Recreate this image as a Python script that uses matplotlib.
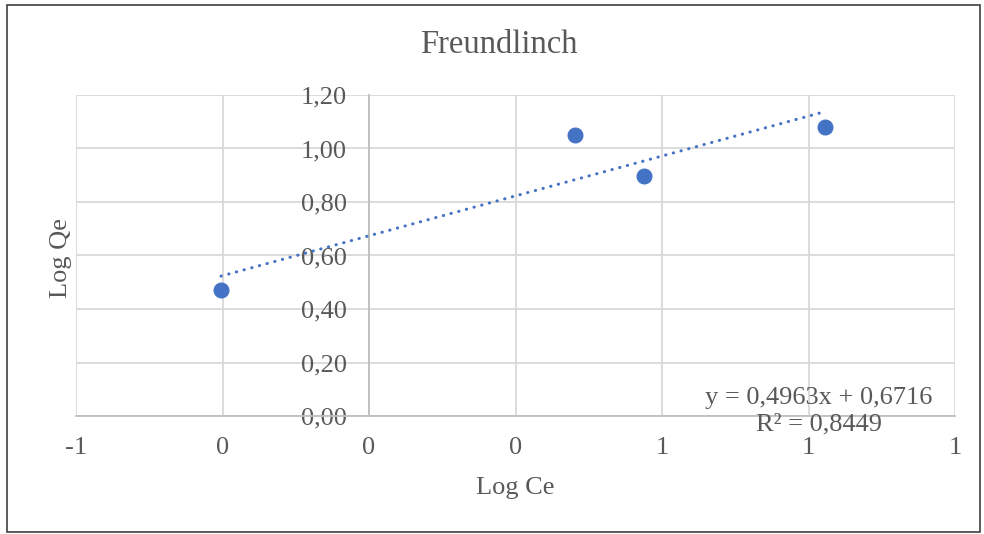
import numpy as np
import matplotlib
matplotlib.use("Agg")
import matplotlib.pyplot as plt
from matplotlib.ticker import FuncFormatter, MultipleLocator
from matplotlib.patches import Rectangle
import math

log_ce = [-0.303, 0.422, 0.563, 0.934]
log_qe = [0.471, 1.050, 0.897, 1.080]
title = "Freundlinch"
xlabel = "Log Ce"
ylabel = "Log Qe"
eq_text = "y = 0,4963x + 0,6716\nR² = 0,8449"

plt.rcParams['font.family'] = ['Liberation Serif', 'DejaVu Serif']
txt = '#595959'

fig = plt.figure(figsize=(9.84, 5.34), dpi=100)
ax = fig.add_axes([76/984, 1-416/534, (955-76)/984, (416-95)/534])

ax.set_xlim(-0.6, 1.2)
ax.set_ylim(0, 1.2)
ax.xaxis.set_major_locator(MultipleLocator(0.3))
ax.yaxis.set_major_locator(MultipleLocator(0.2))

def xfmt(v, pos):
    r = int(math.floor(abs(v) + 0.5 + 1e-9)) * (1 if v >= 0 else -1)
    return "0" if r == 0 else str(r)

def yfmt(v, pos):
    return f"{v:.2f}".replace('.', ',')

ax.xaxis.set_major_formatter(FuncFormatter(xfmt))
ax.yaxis.set_major_formatter(FuncFormatter(yfmt))

ax.grid(True, color='#d9d9d9', linewidth=1.3)
ax.set_axisbelow(True)
for s in ['top', 'right']:
    ax.spines[s].set_visible(False)
ax.spines['left'].set_position(('data', 0))
ax.spines['left'].set_color('#bfbfbf')
ax.spines['left'].set_linewidth(1.3)
ax.spines['bottom'].set_color('#bfbfbf')
ax.spines['bottom'].set_linewidth(1.3)
ax.tick_params(axis='both', length=0, labelsize=19, labelcolor=txt)
ax.tick_params(axis='x', pad=15)
ax.tick_params(axis='y', pad=16)

# trendline
coef = np.polyfit(log_ce, log_qe, 1)
xs = np.array([min(log_ce), max(log_ce)])
ax.plot(xs, np.polyval(coef, xs), color='#4472C4', linewidth=2.2,
        linestyle=(0, (0.1, 2.5)), dash_capstyle='round', zorder=3)

ax.plot(log_ce, log_qe, 'o', color='#4472C4', markersize=10.5, zorder=4,
        clip_on=False)

ax.text(0.845, 0.015, eq_text, transform=ax.transAxes, ha='center',
        va='center', fontsize=19, color=txt, linespacing=1.22)

fig.text(499/984, 1-45/534, title, ha='center', va='center', fontsize=23.5, color=txt)
fig.text(515/984, 1-488/534, xlabel, ha='center', va='center', fontsize=19, color=txt)
fig.text(61/984, 1-258/534, ylabel, ha='center', va='center', fontsize=19,
         color=txt, rotation=90)

fig.patches.append(Rectangle((7/984, 1-532/534), (980-7)/984, (532-5)/534,
                             transform=fig.transFigure, fill=False,
                             edgecolor='#404040', linewidth=1.2))

fig.savefig("out.png", dpi=100)
